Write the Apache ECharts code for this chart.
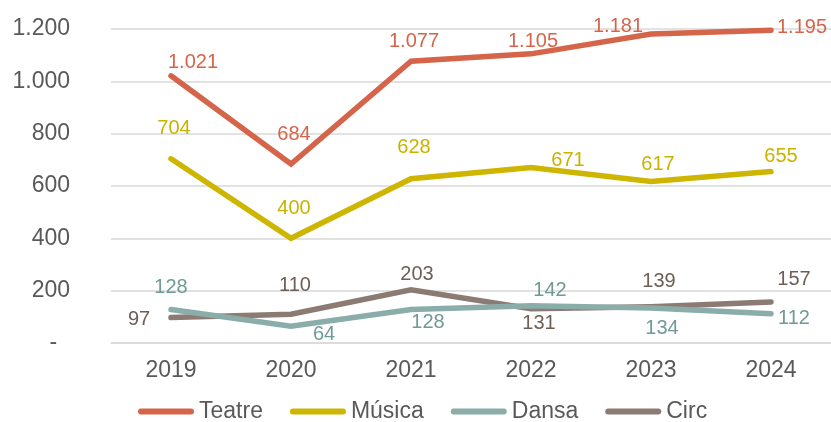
<!DOCTYPE html>
<html>
<head>
<meta charset="utf-8">
<script src="https://cdn.jsdelivr.net/npm/echarts@6/dist/echarts.min.js"></script>
<style>
html,body{margin:0;padding:0;background:#fff;}
#chart{width:831px;height:422px;}
</style>
</head>
<body>
<div id="chart"></div>
<script>
const categories = ['2019', '2020', '2021', '2022', '2023', '2024'];
const seriesNames = ['Teatre', 'Música', 'Dansa', 'Circ'];
const teatre = [1021, 684, 1077, 1105, 1181, 1195];
const musica = [704, 400, 628, 671, 617, 655];
const dansa = [128, 64, 128, 142, 134, 112];
const circ = [97, 110, 203, 131, 139, 157];
const yTicks = [0, 200, 400, 600, 800, 1000, 1200];

// label offsets (presentation only)
const offsets = [
  [[22,-13],[3,-30],[3,-20],[2,-12],[-33,-7],[31,-3]],
  [[3,-30],[3,-30],[3,-31],[37,-7],[7,-17],[10,-15]],
  [[0,-22],[33,8],[17,13],[19,-15],[11,21],[23,5]],
  [[-32,2],[4,-29],[6,-15],[8,15],[8,-25],[23,-22]]
];
const lineColors = ['#D4654A', '#CDB500', '#8AADAA', '#8B7B73'];
const labelColors = ['#D4654A', '#C9B200', '#6F9A96', '#6E5E56'];
const datas = [teatre, musica, dansa, circ];

function fmt(v) {
  if (v === 0) return '-\u00a0\u00a0';
  return String(v).replace(/\B(?=(\d{3})+(?!\d))/g, '.');
}

const font = 'Liberation Sans, Arial, sans-serif';
const capsule = 'path://M3,0 L53,0 A3,3 0 0 1 53,6 L3,6 A3,3 0 0 1 3,0 Z';

const series = seriesNames.map((name, si) => ({
  name: name,
  type: 'line',
  symbol: 'circle',
  symbolSize: 1,
  showSymbol: true,
  itemStyle: { color: lineColors[si] },
  lineStyle: { width: 5.5, color: lineColors[si], cap: 'round', join: 'miter' },
  emphasis: { disabled: true },
  z: 10 - si,
  data: datas[si].map((v, i) => ({
    value: v,
    label: {
      show: true,
      position: 'inside',
      offset: offsets[si][i],
      formatter: fmt(v),
      color: labelColors[si],
      fontSize: 20,
      fontFamily: font
    }
  }))
}));

const chart = echarts.init(document.getElementById('chart'), null, { renderer: 'canvas' });
chart.setOption({
  animation: false,
  backgroundColor: '#ffffff',
  grid: { left: 111, right: 0, top: 29, bottom: 79, containLabel: false },
  legend: {
    data: seriesNames.map((n, i) => ({ name: n, icon: capsule })),
    left: 138,
    top: 400,
    padding: 0,
    itemWidth: 56,
    itemHeight: 6,
    itemGap: 27,
    textStyle: { fontSize: 23, color: '#595959', fontFamily: font, padding: [0, 0, 0, 0] }
  },
  xAxis: {
    type: 'category',
    data: categories,
    boundaryGap: true,
    axisLine: { show: true, lineStyle: { color: '#D9D9D9', width: 1.5 } },
    axisTick: { show: false },
    axisLabel: { fontSize: 23, color: '#595959', fontFamily: font, margin: 16 }
  },
  yAxis: {
    type: 'value',
    min: yTicks[0],
    max: yTicks[yTicks.length - 1],
    interval: 200,
    axisLine: { show: false },
    axisTick: { show: false },
    splitLine: { lineStyle: { color: '#D9D9D9', width: 1.5 } },
    axisLabel: { fontSize: 23, color: '#595959', fontFamily: font, margin: 41, formatter: fmt }
  },
  series: series
});
</script>
</body>
</html>
